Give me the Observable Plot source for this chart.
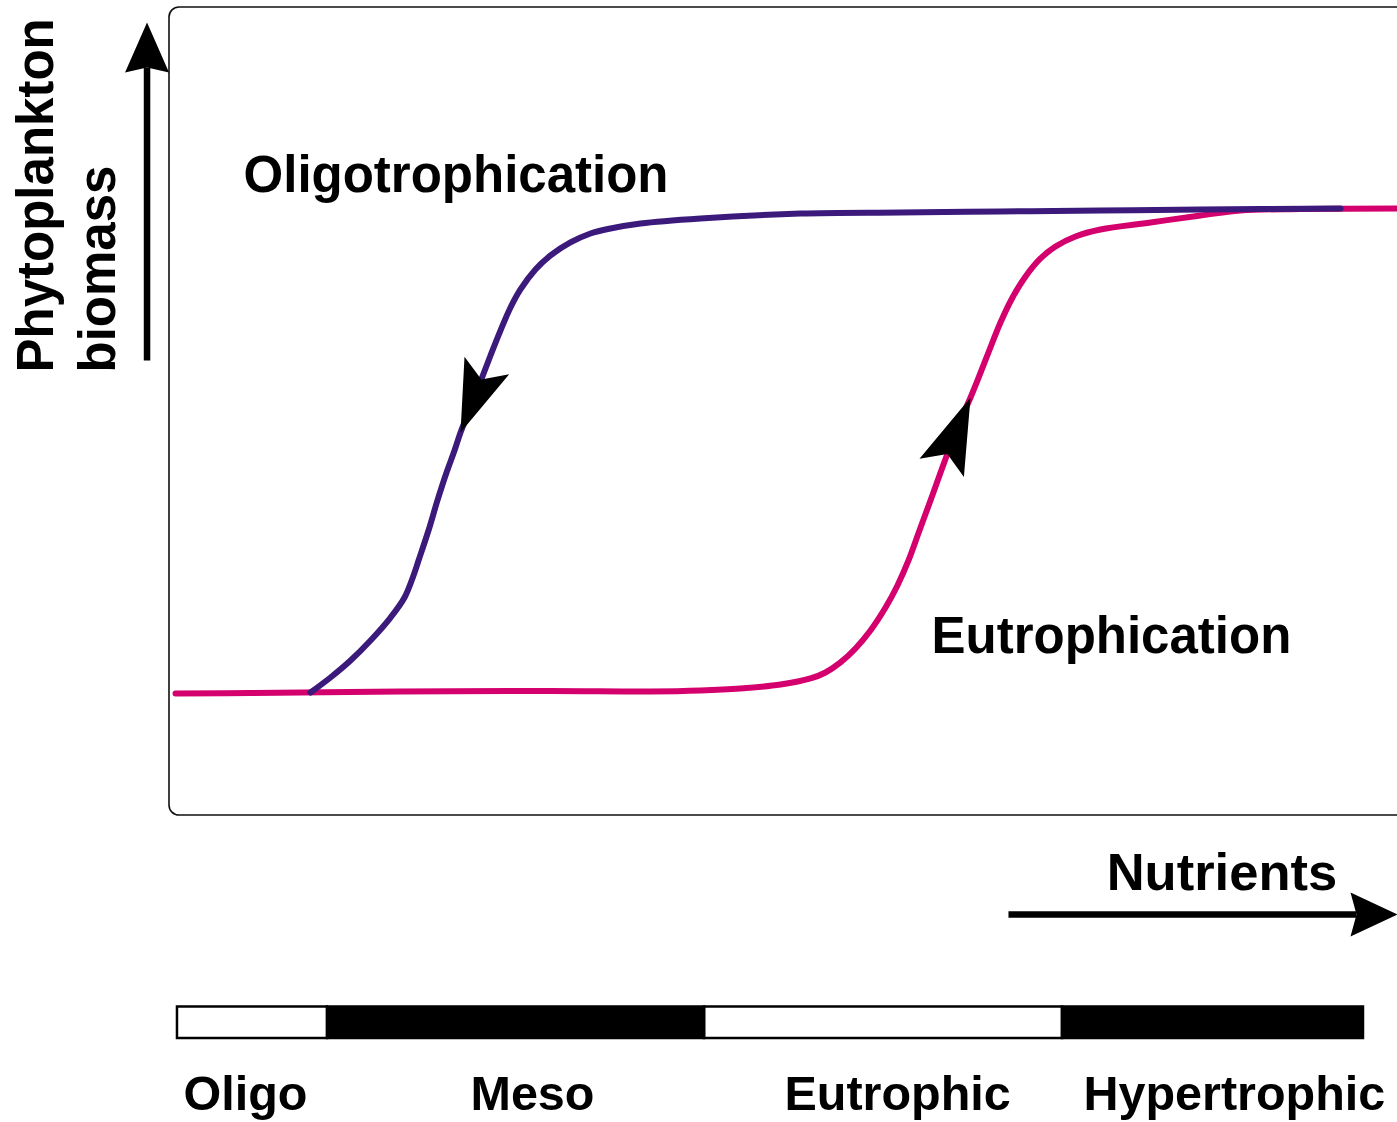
<!DOCTYPE html>
<html>
<head>
<meta charset="utf-8">
<script src="https://cdn.jsdelivr.net/npm/d3@7"></script>
<script src="https://cdn.jsdelivr.net/npm/@observablehq/plot@0.6"></script>
<style>
  html, body { margin: 0; padding: 0; background: #fff; overflow: hidden; }
  #chart svg { overflow: hidden; }
</style>
</head>
<body>
<div id="chart"></div>
<script>
// ---- Data (nutrient index N: 0-100, phytoplankton biomass index B: 0-100) ----
// Eutrophication path (rising nutrients), read left to right
const eutroN = [0.49, 6.60, 18.81, 31.03, 39.17, 43.24, 46.50, 49.76, 52.20, 53.42, 54.64, 55.86, 57.08, 58.31, 59.28, 60.18, 61.07, 61.97, 62.79, 63.36, 64.01, 64.58, 65.23, 65.80, 66.69, 67.67, 68.65, 69.71, 70.93, 72.15, 73.78, 75.81, 79.89, 83.96, 87.21, 92.10, 100];
const eutroB = [15.10, 15.16, 15.35, 15.41, 15.35, 15.47, 15.72, 16.21, 16.96, 17.70, 18.94, 20.67, 22.90, 25.74, 28.47, 31.56, 35.27, 38.99, 42.45, 44.80, 47.40, 49.50, 51.73, 53.84, 57.30, 61.01, 64.11, 66.71, 68.94, 70.42, 71.66, 72.52, 73.39, 74.26, 74.88, 75.06, 75.12];
// Oligotrophication path (falling nutrients), stored left to right
const oligoN = [11.48, 13.11, 14.74, 16.37, 18.00, 19.14, 19.87, 20.28, 21.09, 21.82, 22.56, 23.21, 23.70, 24.51, 25.33, 26.14, 26.95, 27.77, 28.58, 29.80, 31.03, 32.65, 34.28, 35.91, 38.36, 43.24, 51.38, 59.53, 67.67, 75.81, 83.96, 95.36];
const oligoB = [15.22, 17.08, 19.18, 21.66, 24.50, 26.98, 29.70, 31.56, 35.27, 38.99, 42.45, 45.17, 47.40, 50.50, 53.71, 56.93, 60.02, 62.87, 65.10, 67.57, 69.31, 70.92, 72.03, 72.65, 73.27, 73.89, 74.50, 74.63, 74.75, 74.88, 75.00, 75.12];

// Trophic state bar
const trophicStates = ["Oligo", "Meso", "Eutrophic", "Hypertrophic"];
const trophicBounds = [0.65, 12.87, 43.57, 72.72, 97.23];
const trophicLabelN = [1.14, 24.51, 50.08, 74.43];

// Annotations
const curveLabels = ["Oligotrophication", "Eutrophication"];
const curveLabelN = [6.03, 62.05];
const curveLabelB = [77.2, 20.1];
const axisTitleY = ["Phytoplankton", "biomass"];
const axisTitleX = "Nutrients";

// ---- Layout (scales) ----
const W = 1397, H = 1122;
const xDomain = [0, 100], xRange = [169, 1397];
const yDomain = [0, 100], yRange = [815, 7];
const X = d3.scaleLinear().domain(xDomain).range(xRange);
const Y = d3.scaleLinear().domain(yDomain).range(yRange);

const PINK = "#d4006e", PURPLE = "#3b1a7b";
const FONT = "Liberation Sans, Arial, Helvetica, sans-serif";

const eutro = eutroN.map((n, i) => ({n, b: eutroB[i]}));
const oligo = oligoN.map((n, i) => ({n, b: oligoB[i]}));
const TIP_O = oligoN.indexOf(23.70), FROM_O = oligoN.indexOf(25.33);
const TIP_E = eutroN.indexOf(65.23), FROM_E = eutroN.indexOf(63.36);

// arrowhead polygon computed in screen space, returned in data units
function head(id, tip, from, len, half, notch) {
  const tx = X(tip[0]), ty = Y(tip[1]), fx = X(from[0]), fy = Y(from[1]);
  let ux = tx - fx, uy = ty - fy; const L = Math.hypot(ux, uy); ux /= L; uy /= L;
  const nx = -uy, ny = ux;
  const bx = tx - len * ux, by = ty - len * uy;
  const pts = [[tx, ty], [bx + half * nx, by + half * ny], [tx - (len - notch) * ux, ty - (len - notch) * uy], [bx - half * nx, by - half * ny]];
  return {poly: pts.map(([x, y]) => ({id, n: X.invert(x), b: Y.invert(y)})),
          base: [X.invert(tx - (len - notch) * ux), Y.invert(ty - (len - notch) * uy)]};
}

// axis arrows (in data units, outside the plotting frame)
const yArrowFrom = [-1.83, 56.31], yArrowTip = [-1.83, 98.14];
const xArrowFrom = [68.32, -12.25], xArrowTip = [100, -12.25];

const hOligo = head("o", [oligoN[TIP_O], oligoB[TIP_O]], [oligoN[FROM_O], oligoB[FROM_O]], 72, 24, 15);
const hEutro = head("e", [eutroN[TIP_E], eutroB[TIP_E]], [eutroN[FROM_E], eutroB[FROM_E]], 76, 24, 15);
const hY = head("y", yArrowTip, yArrowFrom, 50, 22, 5);
const hX = head("x", xArrowTip, xArrowFrom, 47, 22, 6);
const heads = [...hOligo.poly, ...hEutro.poly, ...hY.poly, ...hX.poly];
const shafts = [
  {id: "y", n: yArrowFrom[0], b: yArrowFrom[1]}, {id: "y", n: hY.base[0], b: hY.base[1]},
  {id: "x", n: xArrowFrom[0], b: xArrowFrom[1]}, {id: "x", n: hX.base[0], b: hX.base[1]}
];

const segs = trophicStates.map((s, i) => ({s, i, x1: trophicBounds[i], x2: trophicBounds[i + 1]}));
const BAR_TOP = -23.7, BAR_BOT = -27.6, LABEL_B = -36.5;
const NUTR_B = -9.28;
const ytitleStartB = 54.83, ytitleN = [-9.52, -4.4];

const chart = Plot.plot({
  width: W, height: H,
  marginTop: 0, marginRight: 0, marginBottom: 0, marginLeft: 0,
  x: {domain: xDomain, range: xRange, axis: null},
  y: {domain: yDomain, range: yRange, axis: null},
  marks: [
    // frame
    Plot.rect([0], {x1: 0, x2: 103, y1: 0, y2: 100, rx: 10, fill: "none", stroke: "#111", strokeWidth: 1.6}),
    // curves
    Plot.line(eutro, {x: "n", y: "b", stroke: PINK, strokeWidth: 6, curve: "catmull-rom"}),
    Plot.line(oligo, {x: "n", y: "b", stroke: PURPLE, strokeWidth: 6, curve: "catmull-rom"}),
    // arrow shafts
    Plot.line(shafts, {x: "n", y: "b", z: "id", stroke: "black", strokeWidth: 6.5, strokeLinecap: "butt"}),
    // arrowheads
    Plot.line(heads, {x: "n", y: "b", z: "id", fill: "black", stroke: "none", curve: "linear-closed"}),
    // curve labels
    Plot.text(curveLabels, {x: (d, i) => curveLabelN[i], y: (d, i) => curveLabelB[i], text: d => d,
      textAnchor: "start", lineAnchor: "bottom", fontSize: 51, fontWeight: "bold", fontFamily: FONT, fill: "black"}),
    // y axis title (rotated)
    Plot.text(axisTitleY, {x: (d, i) => ytitleN[i], y: ytitleStartB, text: d => d, rotate: -90,
      textAnchor: "start", lineAnchor: "bottom", fontSize: 51, fontWeight: "bold", fontFamily: FONT, fill: "black"}),
    // x axis title
    Plot.text([axisTitleX], {x: xArrowFrom[0] + 8.0, y: NUTR_B, text: d => d,
      textAnchor: "start", lineAnchor: "bottom", fontSize: 52.5, fontWeight: "bold", fontFamily: FONT, fill: "black"}),
    // trophic bar
    Plot.rect(segs.filter(d => d.i % 2 === 0), {x1: "x1", x2: "x2", y1: BAR_TOP, y2: BAR_BOT, fill: "white", stroke: "black", strokeWidth: 2.5}),
    Plot.rect(segs.filter(d => d.i % 2 === 1), {x1: "x1", x2: "x2", y1: BAR_TOP, y2: BAR_BOT, fill: "black", stroke: "black", strokeWidth: 2.5}),
    Plot.text(segs, {x: d => trophicLabelN[d.i], y: LABEL_B, text: "s",
      textAnchor: "start", lineAnchor: "bottom", fontSize: 48.5, fontWeight: "bold", fontFamily: FONT, fill: "black"})
  ]
});
document.getElementById("chart").appendChild(chart);
</script>
</body>
</html>
